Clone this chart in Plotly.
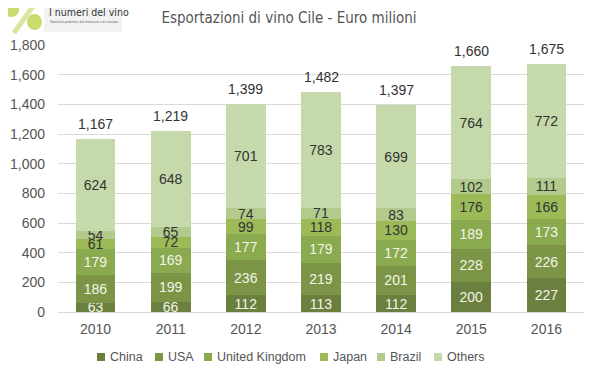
import plotly.graph_objects as go

years = ["2010", "2011", "2012", "2013", "2014", "2015", "2016"]
series_names = ["China", "USA", "United Kingdom", "Japan", "Brazil", "Others"]
china = [63, 66, 112, 113, 112, 200, 227]
usa = [186, 199, 236, 219, 201, 228, 226]
uk = [179, 169, 177, 179, 172, 189, 173]
japan = [61, 72, 99, 118, 130, 176, 166]
brazil = [54, 65, 74, 71, 83, 102, 111]
others = [624, 648, 701, 783, 699, 764, 772]
totals = [1167, 1219, 1399, 1482, 1397, 1660, 1675]
y_ticks = [0, 200, 400, 600, 800, 1000, 1200, 1400, 1600, 1800]

colors = ["#6b7f3e", "#7b9446", "#8aaa4f", "#9cbb58", "#b2ca8c", "#c6d9aa"]
text_colors = ["#f4f4e8", "#f4f4e8", "#f4f4e8", "#333333", "#333333", "#333333"]
values = [china, usa, uk, japan, brazil, others]

FONT = "Liberation Sans"
NARROW = "DejaVu Sans Condensed, Liberation Sans Narrow, Arial Narrow, sans-serif"

W, H = 599, 378
OFF = 8  # page offset of the figure inside the window
ML, MR, MT, MB = 50, 23, 37, 74
PW, PH = W - ML - MR, H - MT - MB


def px(xw, yw):
    """window pixel -> paper coords"""
    return (xw - OFF - ML) / PW, (H - MB - (yw - OFF)) / PH


fig = go.Figure()
for name, vals, col, tcol in zip(series_names, values, colors, text_colors):
    fig.add_trace(go.Bar(
        x=years, y=vals, name=name, marker=dict(color=col, line=dict(width=0)),
        text=[str(v) for v in vals], textposition="inside", insidetextanchor="middle",
        textangle=0, constraintext="none",
        textfont=dict(color=tcol, size=14, family=FONT),
        hoverinfo="skip", showlegend=False,
    ))

# totals above the stacks (category index on the category axis)
for i, t in enumerate(totals):
    fig.add_annotation(x=i, y=t, xref="x", yref="y", text=f"{t:,}", showarrow=False,
                       yanchor="bottom", yshift=5,
                       font=dict(size=14, color="#333333", family=FONT))

fig.update_layout(
    width=W, height=H,
    barmode="stack", bargap=0.47,
    paper_bgcolor="white", plot_bgcolor="white",
    margin=dict(l=ML, r=MR, t=MT, b=MB, autoexpand=False),
    font=dict(family=FONT, color="#555555"),
    title=dict(text="Esportazioni di vino Cile - Euro milioni", x=0.469, xanchor="center",
               y=0.974, yanchor="middle",
               font=dict(family=NARROW, size=15, color="#555555")),
    uniformtext=dict(minsize=14, mode="show"),
    showlegend=False,
)
fig.update_yaxes(range=[0, 1800], tickvals=y_ticks, ticktext=[f"{v:,}" for v in y_ticks],
                 showgrid=True, gridcolor="#d9d9d9", gridwidth=1, zeroline=False,
                 showline=False, ticks="", tickfont=dict(size=14, color="#555555"),
                 ticklabelstandoff=12)
fig.update_xaxes(type="category", categoryorder="array", categoryarray=years,
                 range=[-0.5, len(years) - 0.5],
                 showline=True, linecolor="#d9d9d9", linewidth=1, ticks="",
                 tickfont=dict(size=14, color="#555555"), ticklabelstandoff=4)

# legend (compact, Excel-like)
legend_x = [97, 155, 204, 320, 377, 434]
legend_y = 357
for name, col, lx in zip(series_names, colors, legend_x):
    x0, y0 = px(lx, legend_y - 4)
    x1, y1 = px(lx + 8, legend_y + 4)
    fig.add_shape(type="rect", xref="paper", yref="paper", x0=x0, x1=x1, y0=y1, y1=y0,
                  fillcolor=col, line=dict(width=0))
    tx, ty = px(lx + 11, legend_y)
    fig.add_annotation(text=name, xref="paper", yref="paper", x=tx, y=ty, xanchor="left",
                       yanchor="middle", showarrow=False,
                       font=dict(size=12.5, color="#555555", family=FONT))

# logo approximation
a0, b0 = px(44, 0)
a1, b1 = px(122, 32)
fig.add_shape(type="rect", xref="paper", yref="paper", x0=a0, x1=a1, y0=b1, y1=b0,
              fillcolor="#f2f2f2", line=dict(width=0), layer="below")
l0, m0 = px(14, 33)
l1, m1 = px(36, 2)
fig.add_shape(type="line", xref="paper", yref="paper", x0=l0, x1=l1, y0=m0, y1=m1,
              line=dict(color="#d8e6a0", width=5))
c0, d0 = px(3, 3)
c1, d1 = px(19, 17)
fig.add_shape(type="circle", xref="paper", yref="paper", x0=c0, x1=c1, y0=d1, y1=d0,
              fillcolor="#c9dc6e", line=dict(width=0))
c0, d0 = px(27, 14)
c1, d1 = px(42, 30)
fig.add_shape(type="circle", xref="paper", yref="paper", x0=c0, x1=c1, y0=d1, y1=d0,
              fillcolor="#c9dc6e", line=dict(width=0))
tx, ty = px(47, 12)
fig.add_annotation(text="I numeri del vino", xref="paper", yref="paper", x=tx, y=ty,
                   xanchor="left", yanchor="middle", showarrow=False,
                   font=dict(size=10.5, color="#333333", family="DejaVu Sans Condensed"))
tx, ty = px(48, 22)
fig.add_annotation(text="Statistiche produttive, dati di mercato e di consumo", xref="paper", yref="paper",
                   x=tx, y=ty, xanchor="left", yanchor="middle", showarrow=False,
                   font=dict(size=3, color="#666666", family=FONT))

fig.write_html("out.html")
